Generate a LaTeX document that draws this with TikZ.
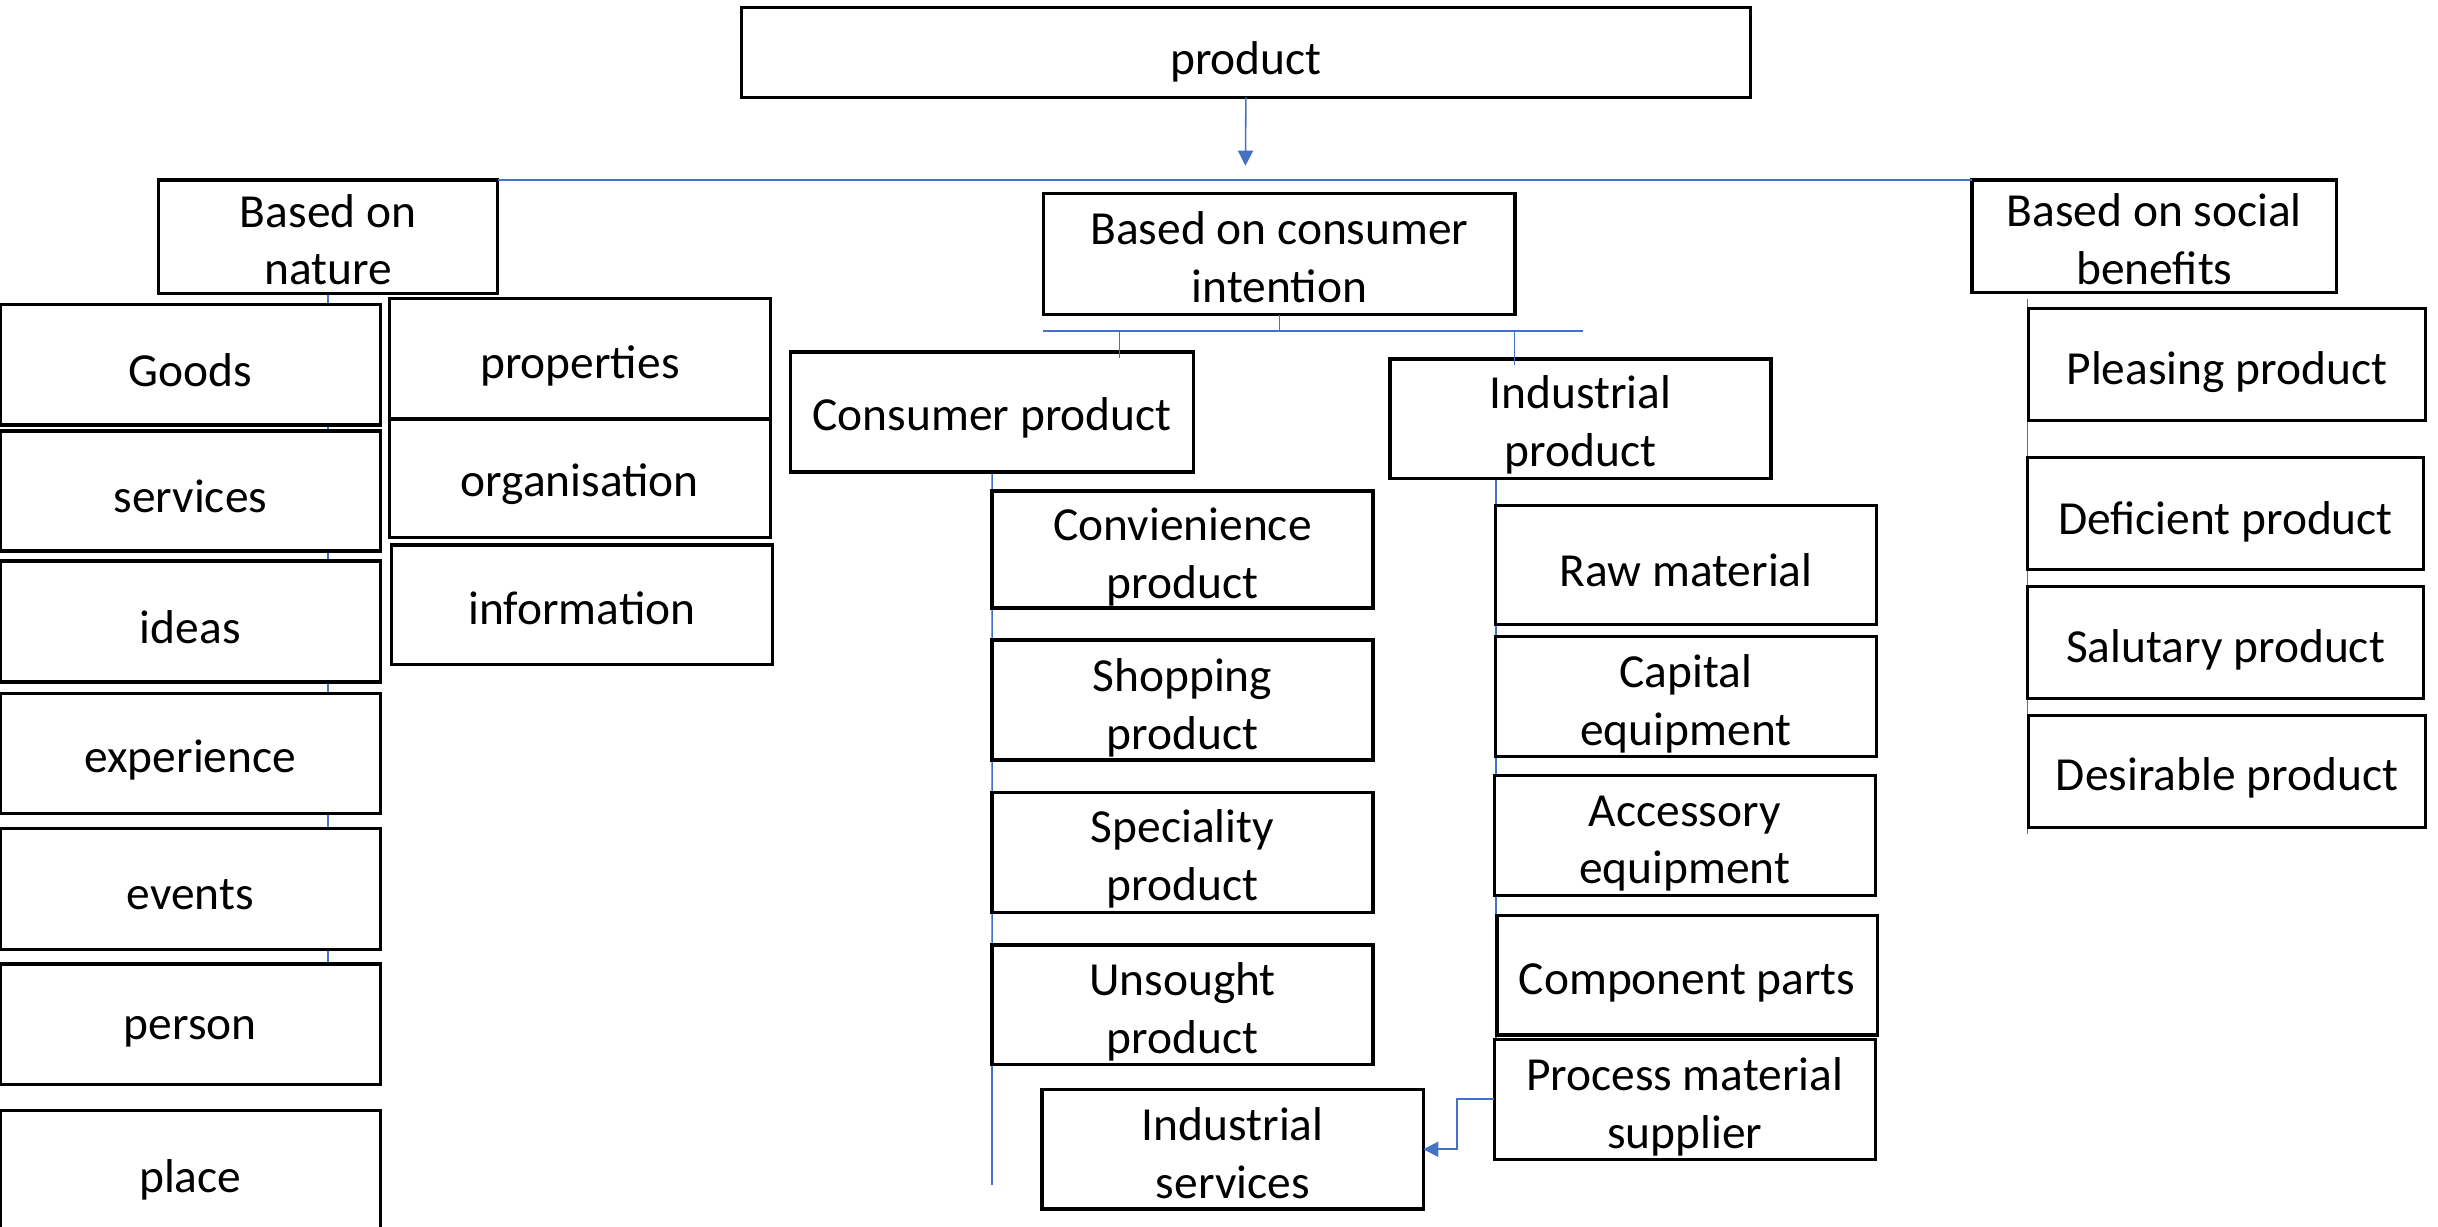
\documentclass[tikz,border=0pt]{standalone}
\usepackage{fontspec}
\setmainfont{Carlito}
\usetikzlibrary{arrows.meta,backgrounds}
\definecolor{linkblue}{HTML}{4472C4}
\tikzset{
  box/.style={draw=black, line width=0.9pt, fill=white, inner sep=0pt, outer sep=0pt},
  lbl/.style={inner sep=0pt, align=center, font=\fontsize{13.5}{16.4}\selectfont},
  link/.style={draw=linkblue, line width=0.45pt},
  tip/.style={-{Triangle[length=4.3pt,width=4.3pt]}},
}
% box from its corner coordinates, with its text lowered a little:
% [text drop], name, x1, y1, x2, y2, text
\newcommand\bx[7][3.5]{%
  \node[box, minimum width={(#5-#3)*0.015548cm}, minimum height={(#6-#4)*0.015548cm}]
    (#2) at ({(#3+#5)/2},{(#4+#6)/2}) {};
  \node[lbl] (#2-t) at ({(#3+#5)/2},{(#4+#6)/2+#1}) {#7};}
\begin{document}
\begin{tikzpicture}[x=0.015548cm, y=-0.015548cm]
\useasboundingbox (0,0) rectangle (1568,789);

% top level
\bx[6]{prod}{477}{4.7}{1125.6}{62.6}{product}
\bx[2]{nature}{102}{115.8}{320}{188.7}{Based on\\nature}
\bx[2]{intent}{671.3}{124.3}{974.4}{202.4}{Based on consumer\\intention}
\bx[2]{social}{1268.3}{115.8}{1502.8}{188.2}{Based on social\\benefits}

% based on nature
\bx{goods}{0.3}{195.7}{244.5}{273.3}{Goods}
\bx{serv}{0.3}{277.2}{244.5}{354.4}{services}
\bx{ideas}{0.3}{360.8}{244.5}{438.6}{ideas}
\bx[4]{exper}{0.3}{446}{244.5}{523.4}{experience}
\bx{events}{0.3}{533.1}{244.5}{610.5}{events}
\bx[4.5]{person}{0.3}{620}{244.5}{697.7}{person}
\bx[2]{place}{0.3}{714}{244.5}{800}{place}
\bx[4.5]{props}{250.4}{191.9}{495.5}{269.5}{properties}
\bx[4]{org}{250.4}{269.5}{495.5}{345.8}{organisation}
\bx[2]{info}{251.7}{350.5}{496.8}{427.5}{information}

% based on consumer intention
\bx[4]{cons}{508.4}{226.4}{767.8}{303.6}{Consumer product}
\bx[4]{ind}{894}{230.9}{1139}{307.8}{Industrial\\product}
\bx[5]{conv}{638}{315.8}{883}{391}{Convienience\\product}
\bx[5]{shop}{638}{411.6}{883}{488.8}{Shopping\\product}
\bx[4]{spec}{638}{509.8}{883}{587}{Speciality\\product}
\bx[4.5]{uns}{638}{607.8}{883}{684.7}{Unsought\\product}
\bx[2.5]{ins}{670.2}{700.7}{915.4}{777.6}{Industrial\\services}
\bx{raw}{962}{325}{1206.6}{401.4}{Raw material}
\bx[4.5]{cap}{962}{409.4}{1206.6}{486.6}{Capital\\equipment}
\bx[5]{acc}{961}{499}{1206}{576}{Accessory\\equipment}
\bx[5]{comp}{962.8}{588.9}{1207.3}{665.7}{Component parts}
\bx[5]{proc}{961}{668.4}{1206}{745.5}{Process material\\supplier}

% based on social benefits
\bx[5]{pleas}{1304.5}{198.5}{1560}{270.6}{Pleasing product}
\bx[5]{defi}{1303.8}{294.5}{1558.9}{366.5}{Deficient product}
\bx[5]{salu}{1303.8}{377.1}{1558.9}{449.2}{Salutary product}
\bx[4.5]{desi}{1304.7}{459.9}{1560}{532}{Desirable product}

% free ends of the connectors
\coordinate (ptip) at (801,106.6);
\coordinate (bl) at (671,213);
\coordinate (br) at (1018,213);
\coordinate (cstub) at (720,230);
\coordinate (istub) at (974,235);
\coordinate (cend) at (638,762);
\coordinate (iend) at (962,716);
\coordinate (stop) at (1304,192.5);
\coordinate (send) at (1304,536.4);

% connectors
\draw[link, tip] (prod.south) -- (ptip);
\draw[link] (nature.north east) -- (social.north west);
\draw[link] (intent.south) -- (intent.south |- bl);
\draw[link] (bl) -- (br);
\draw[link] (cstub |- bl) -- (cstub);
\draw[link] (istub |- bl) -- (istub);
\draw[link, tip] (proc.west) -- ++(-24,0) |- (ins.east);

\begin{scope}[on background layer]
  \draw[link] (nature.south) -- (person.north -| nature.south);
  \draw[link] (cons.south) -- (cend);
  \draw[link] (raw.west |- ind.south) -- (iend);
  \draw[link] (stop) -- (send);
\end{scope}
\end{tikzpicture}
\end{document}
